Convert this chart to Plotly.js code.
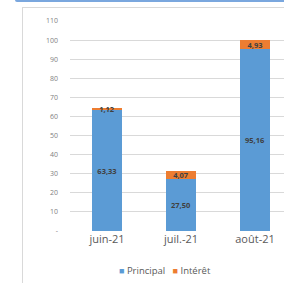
<!DOCTYPE html>
<html><head><meta charset="utf-8">
<script src="https://cdn.plot.ly/plotly-3.0.1.min.js"></script>
<style>
html,body{margin:0;padding:0;width:284px;height:283px;overflow:hidden;background:#fff;}
#topbar{position:absolute;left:15px;top:0;width:280px;height:2px;background:#7aa7de;border-bottom-left-radius:3px;}
#frame{position:absolute;left:22px;top:7px;width:300px;height:300px;border-left:1px solid #d9d9d9;border-top:1px solid #d9d9d9;}
#chart{position:absolute;left:0;top:0;}
</style></head>
<body>
<div id="topbar"></div>
<div id="frame"></div>
<div id="chart"></div>
<script>
const categories = ['juin-21', 'juil.-21', 'août-21'];
const seriesNames = ['Principal', 'Intérêt'];
const seriesColors = ['#5B9BD5', '#ED7D31'];
const principal = [63.33, 27.50, 95.16];
const interet = [1.12, 4.07, 4.93];
const yTickVals = [0,10,20,30,40,50,60,70,80,90,100,110];
const yTickText = ['-','10','20','30','40','50','60','70','80','90','100','110'];

const labelFont = {family:'Open Sans, sans-serif', size:7.5, color:'#404040', weight:'bold'};
const traces = [principal, interet].map((vals, i) => ({
  type:'bar', name:seriesNames[i], x:categories, y:vals, marker:{color:seriesColors[i]},
  texttemplate:'%{y:.2f}', textposition:'inside', insidetextanchor:'middle', constraintext:'none',
  textfont:labelFont, hoverinfo:'none', showlegend:false
}));
const legendText = seriesNames.map((n, i) =>
  '<span style="color:' + seriesColors[i] + ';font-size:9px">■</span> ' + n).join('   ');
const layout = {
  width:300, height:283,
  margin:{l:70, r:8, t:21, b:52},
  barmode:'stack', bargap:0.6,
  separators:',.',
  paper_bgcolor:'rgba(0,0,0,0)', plot_bgcolor:'rgba(0,0,0,0)',
  font:{family:'Open Sans, sans-serif', color:'#595959'},
  xaxis:{tickfont:{size:11, color:'#595959'}, showline:false, ticks:'', showgrid:false},
  yaxis:{range:[0,110], tickvals:yTickVals, ticktext:yTickText, tickfont:{size:7, color:'#7f7f7f'},
         gridcolor:'#d9d9d9', gridwidth:1, zeroline:false, showline:false, ticks:'', ticklen:0,
         ticklabelstandoff:11, automargin:false},
  showlegend:false,
  annotations:[{xref:'paper', yref:'paper', x:0.43, y:-0.186, xanchor:'center', yanchor:'middle',
    showarrow:false, text:legendText, font:{family:'Open Sans, sans-serif', size:9.5, color:'#595959'}}]
};
Plotly.newPlot('chart', traces, layout, {staticPlot:true, displayModeBar:false});
</script>
</body></html>
